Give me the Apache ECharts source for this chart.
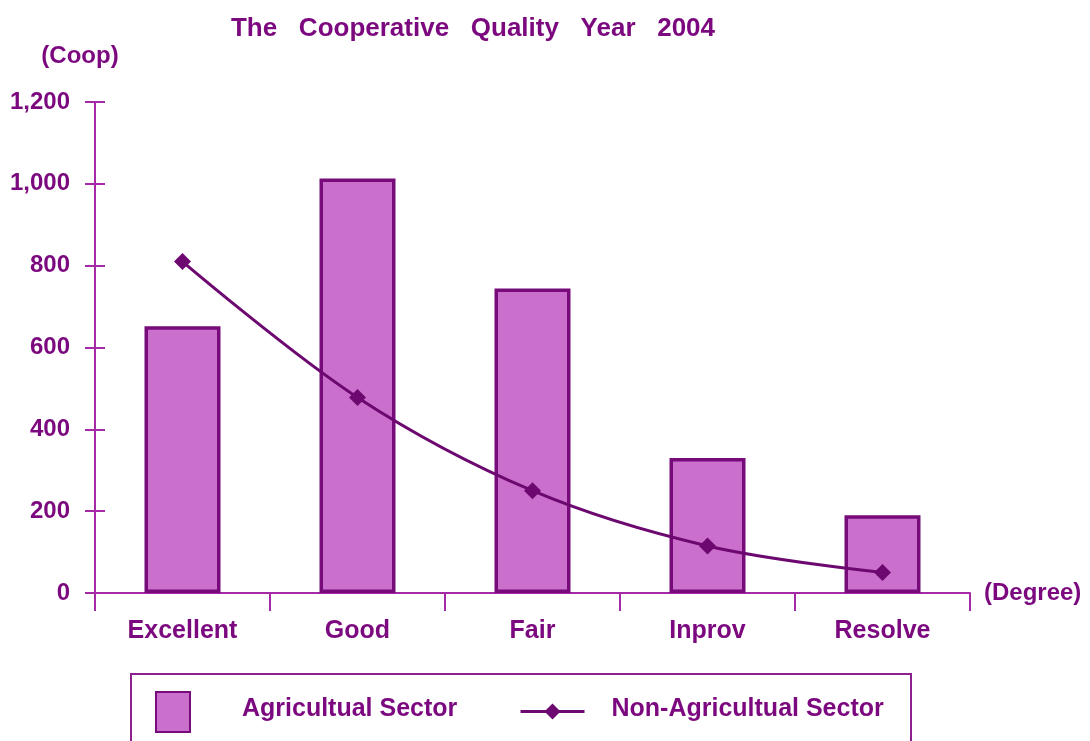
<!DOCTYPE html>
<html>
<head>
<meta charset="utf-8">
<title>The Cooperative Quality Year 2004</title>
<script src="https://cdn.jsdelivr.net/npm/echarts@6/dist/echarts.min.js"></script>
<style>
  html, body { margin: 0; padding: 0; background: #ffffff; }
  #chart { width: 1090px; height: 741px; }
</style>
</head>
<body>
<div id="chart"></div>
<script>
// Quality degrees on the x axis
const categories = ['Excellent', 'Good', 'Fair', 'Inprov', 'Resolve'];
// Number of cooperatives per degree
const agriculturalValues = [652, 1013, 744, 330, 190];
const nonAgriculturalValues = [810, 478, 250, 115, 50];
// Value axis scale
const yMin = 0;
const yMax = 1200;
const yStep = 200;

const TEXT = '#7b087e';
const AXIS = '#a52aa8';
const BAR_FILL = '#ca6fcc';
const BAR_EDGE = '#770b7a';
const LINE = '#6c0870';
const FONT = '"Liberation Sans", Arial, sans-serif';

const fmt = v => Number(v).toLocaleString('en-US');

const chart = echarts.init(document.getElementById('chart'), null, { renderer: 'canvas' });

chart.setOption({
  backgroundColor: '#ffffff',
  animation: false,
  title: {
    text: 'The   Cooperative   Quality   Year   2004',
    left: 468,
    textAlign: 'center',
    top: 11,
    textStyle: { color: TEXT, fontFamily: FONT, fontWeight: 'bold', fontSize: 26 }
  },
  grid: { left: 95, right: 120, top: 102, bottom: 148, containLabel: false },
  xAxis: {
    type: 'category',
    data: categories,
    boundaryGap: true,
    name: '(Degree)',
    nameLocation: 'end',
    nameGap: 14,
    nameTextStyle: { color: TEXT, fontFamily: FONT, fontWeight: 'bold', fontSize: 24, verticalAlign: 'middle', padding: [12, 0, 0, 0] },
    axisLine: { show: true, lineStyle: { color: AXIS, width: 2 } },
    axisTick: { show: true, alignWithLabel: false, interval: 0, length: 18, lineStyle: { color: AXIS, width: 2 } },
    axisLabel: { color: TEXT, fontFamily: FONT, fontWeight: 'bold', fontSize: 25, margin: 26 },
    splitLine: { show: false }
  },
  yAxis: [
    {
      type: 'value',
      min: yMin,
      max: yMax,
      interval: yStep,
      name: '(Coop)',
      nameLocation: 'end',
      nameGap: 34,
      nameTextStyle: { color: TEXT, fontFamily: FONT, fontWeight: 'bold', fontSize: 24, align: 'center', padding: [0, 30, 0, 0] },
      axisLine: { show: true, lineStyle: { color: AXIS, width: 2 } },
      axisTick: { show: true, length: 10, lineStyle: { color: AXIS, width: 2 } },
      axisLabel: { color: TEXT, fontFamily: FONT, fontWeight: 'bold', fontSize: 24, margin: 25, formatter: fmt },
      splitLine: { show: false }
    },
    {
      // inner half of the cross ticks on the value axis
      type: 'value',
      position: 'left',
      min: yMin,
      max: yMax,
      interval: yStep,
      axisLine: { show: false },
      axisTick: { show: true, inside: true, length: 10, lineStyle: { color: AXIS, width: 2 } },
      axisLabel: { show: false },
      splitLine: { show: false }
    }
  ],
  legend: [
    {
      data: ['Agricultual Sector'],
      left: 150,
      top: 686,
      itemWidth: 34,
      itemHeight: 40,
      icon: 'rect',
      formatter: name => '{t|' + name + '}',
      textStyle: {
        color: TEXT, fontFamily: FONT, fontWeight: 'bold', fontSize: 25,
        rich: { t: { color: TEXT, fontFamily: FONT, fontWeight: 'bold', fontSize: 25, padding: [0, 0, 6, 47] } }
      }
    },
    {
      data: ['Non-Agricultual Sector'],
      left: 514,
      top: 692,
      itemWidth: 64,
      itemHeight: 20,
      lineStyle: { width: 3 },
      formatter: name => '{t|' + name + '}',
      textStyle: {
        color: TEXT, fontFamily: FONT, fontWeight: 'bold', fontSize: 25,
        rich: { t: { color: TEXT, fontFamily: FONT, fontWeight: 'bold', fontSize: 25, padding: [0, 0, 4, 22] } }
      }
    }
  ],
  graphic: [
    {
      type: 'rect',
      shape: { x: 131, y: 674, width: 780, height: 120 },
      style: { fill: 'none', stroke: '#8c208f', lineWidth: 2 },
      silent: true,
      z: 0
    }
  ],
  series: [
    {
      name: 'Agricultual Sector',
      type: 'bar',
      data: agriculturalValues,
      barWidth: 76,
      itemStyle: { color: BAR_FILL, borderColor: BAR_EDGE, borderWidth: 3.5 },
      z: 2
    },
    {
      name: 'Non-Agricultual Sector',
      type: 'line',
      data: nonAgriculturalValues,
      smooth: 0.35,
      symbol: 'diamond',
      symbolSize: 17,
      lineStyle: { color: LINE, width: 3 },
      itemStyle: { color: LINE },
      z: 3
    }
  ]
});
</script>
</body>
</html>
